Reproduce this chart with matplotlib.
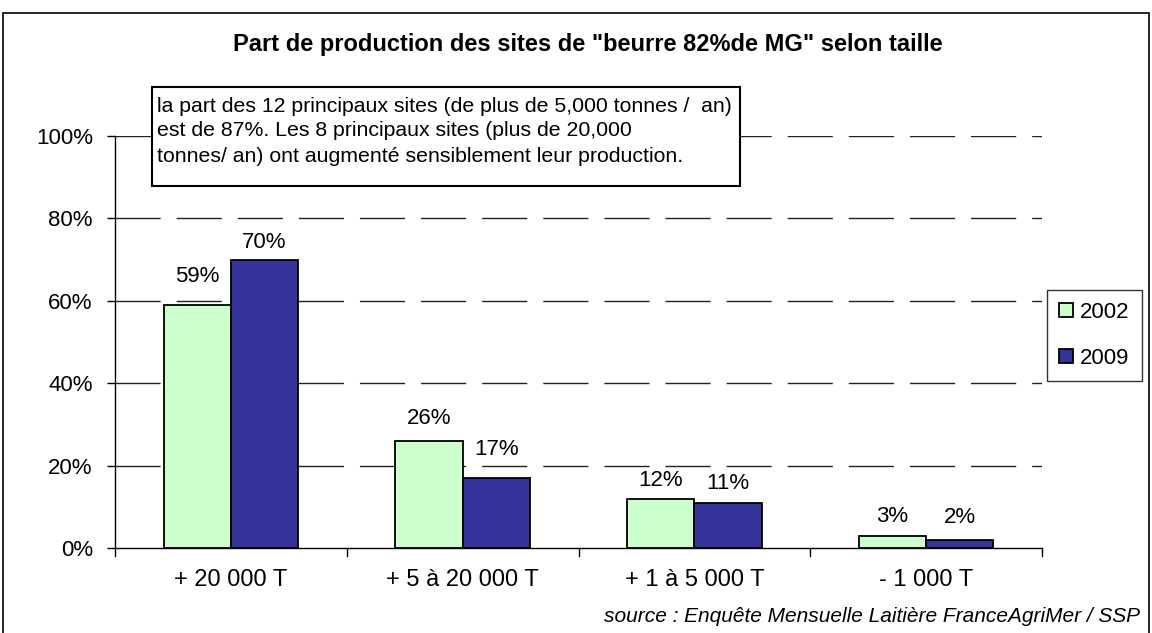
import numpy as np
import matplotlib.pyplot as plt
from matplotlib.patches import Rectangle

plt.rcParams['font.family'] = ['Liberation Sans', 'DejaVu Sans']

categories = ["+ 20 000 T", "+ 5 à 20 000 T", "+ 1 à 5 000 T", "- 1 000 T"]
years = ["2002", "2009"]
share_2002 = [59, 26, 12, 3]
share_2009 = [70, 17, 11, 2]
colors = ["#CCFFCC", "#333399"]

# label gap above bar tops, in pixels (as placed in the original)
gap_2002 = [28, 22, 18, 19]
gap_2009 = [17, 28, 19, 22]

W, H = 1152, 633
fig = plt.figure(figsize=(W / 100, H / 100), dpi=100)

# outer chart frame
fig.patches.append(Rectangle((3 / W, -0.05), 1146 / W, 1.05 - 13 / H,
                             transform=fig.transFigure, fill=False,
                             edgecolor="black", linewidth=1.2))

ax = fig.add_axes([115 / W, 1 - 548 / H, (1042 - 115) / W, (548 - 136) / H])
px = 100 / (548 - 136)  # data units per pixel (y)

x = np.arange(len(categories))
bw = 0.29
bars1 = ax.bar(x - bw / 2, share_2002, bw, color=colors[0], edgecolor="black",
               linewidth=1.3, label=years[0], zorder=3)
bars2 = ax.bar(x + bw / 2, share_2009, bw, color=colors[1], edgecolor="black",
               linewidth=1.3, label=years[1], zorder=3)

for bars, vals, gaps in ((bars1, share_2002, gap_2002), (bars2, share_2009, gap_2009)):
    for b, v, g in zip(bars, vals, gaps):
        ax.text(b.get_x() + b.get_width() / 2, v + g * px, f"{v}%",
                ha="center", va="center", fontsize=16, zorder=4)

ax.set_xlim(-0.5, len(categories) - 0.5)
ax.set_ylim(0, 100)
ax.set_yticks(range(0, 101, 20))
ax.set_yticklabels([f"{t}%" for t in range(0, 101, 20)], fontsize=16)
ax.set_xticks(x)
ax.set_xticklabels(categories, fontsize=17)
ax.tick_params(axis="x", length=0, pad=15)
ax.tick_params(axis="y", length=6, width=1, pad=10)
# category separator ticks
for xs in np.arange(-0.5, len(categories), 1.0):
    ax.plot([xs, xs], [0, -8 * px], color="black", linewidth=1, clip_on=False)

for yv in range(20, 101, 20):
    ax.axhline(yv, color="#222222", linewidth=1, dashes=(32.5, 11.5), zorder=1)

for s in ("top", "right"):
    ax.spines[s].set_visible(False)
ax.spines["left"].set_linewidth(1)
ax.spines["bottom"].set_linewidth(1)

leg = ax.legend(loc="upper left", bbox_to_anchor=(1047 / W, 1 - 290 / H),
                bbox_transform=fig.transFigure, fontsize=16, frameon=True,
                fancybox=False, edgecolor="black", handlelength=0.6,
                handleheight=0.6, handletextpad=0.35, labelspacing=1.1,
                borderpad=0.55, borderaxespad=0)
leg.get_frame().set_linewidth(1)
for h in leg.legend_handles:
    h.set_linewidth(1.3)

fig.text(588 / W, 1 - 45 / H,
         'Part de production des sites de "beurre 82%de MG" selon taille',
         ha="center", va="center", fontsize=17, fontweight="bold")

fig.text(157 / W, 1 - 131 / H,
         "la part des 12 principaux sites (de plus de 5,000 tonnes /  an)\n"
         "est de 87%. Les 8 principaux sites (plus de 20,000\n"
         "tonnes/ an) ont augmenté sensiblement leur production.",
         ha="left", va="center", fontsize=15.3, linespacing=1.4, zorder=5)
fig.patches.append(Rectangle((152 / W, 1 - 186 / H), (740 - 152) / W, (186 - 87) / H,
                             transform=fig.transFigure, facecolor="white",
                             edgecolor="black", linewidth=1.5, zorder=4))

fig.text(1140 / W, 1 - 617 / H,
         "source : Enquête Mensuelle Laitière FranceAgriMer / SSP",
         ha="right", va="center", fontsize=15, style="italic")

fig.savefig("out.png", dpi=100)
